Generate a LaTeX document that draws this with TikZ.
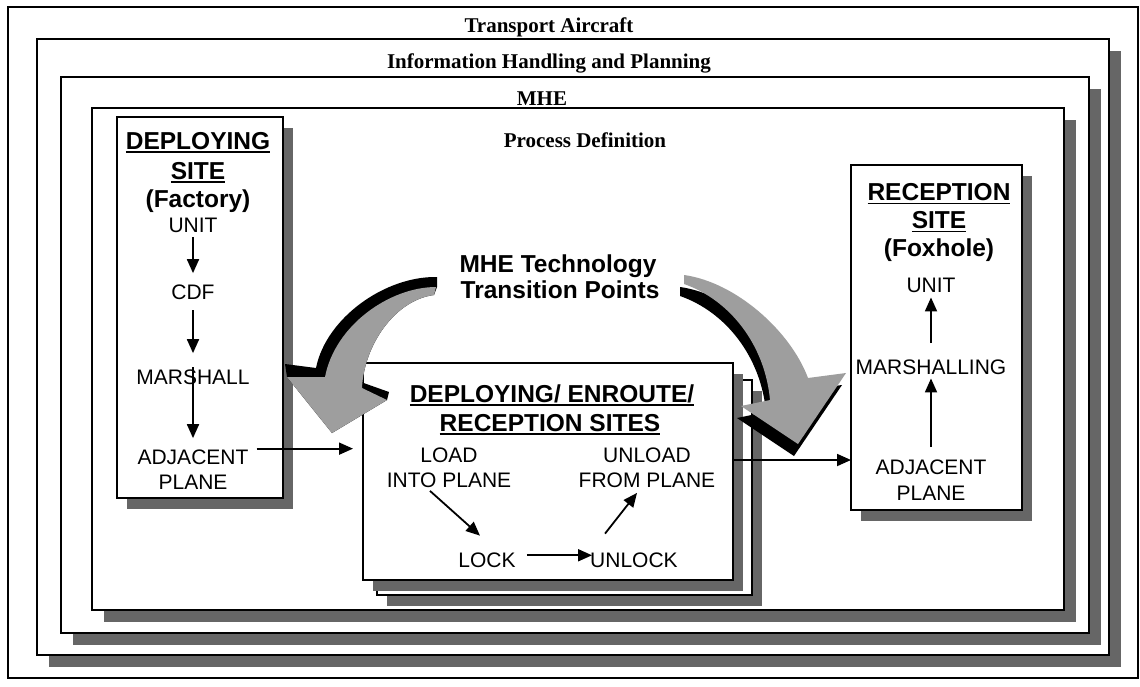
\documentclass[tikz,border=0pt]{standalone}
\usepackage{fontspec}
\setmainfont{Liberation Serif}
\newfontfamily\sansf{Liberation Sans}
\usetikzlibrary{shadows,arrows.meta,calc}
\definecolor{shadowcol}{rgb}{0.40,0.40,0.40}
\definecolor{arrowgray}{rgb}{0.62,0.62,0.62}
\newcommand\myul[1]{\setbox0=\hbox{#1}\rlap{\rule[-3.5pt]{\wd0}{1.8pt}}\box0}
\begin{document}
\begin{tikzpicture}[x=1pt,y=-1pt,
  frame/.style={draw, line width=1.2pt, fill=white, inner sep=0pt, outer sep=0pt},
  fshadow/.style={drop shadow={shadow xshift=12pt, shadow yshift=-12pt, fill=shadowcol, opacity=1}},
  bshadow/.style={drop shadow={shadow xshift=10pt, shadow yshift=-11pt, fill=shadowcol, opacity=1}},
  sitebox/.style={draw, line width=2.2pt, fill=white, inner sep=0pt, outer sep=0pt, bshadow},
  ttl/.style={inner sep=0pt, anchor=base, font=\bfseries\fontsize{21}{25}\selectfont},
  hd/.style={inner sep=0pt, anchor=base, font=\sansf\bfseries\fontsize{24.5}{29}\selectfont},
  itm/.style={inner sep=0pt, anchor=base, font=\sansf\fontsize{21}{25}\selectfont},
  arr/.style={line width=1.8pt, -{Triangle[length=14pt,width=12pt]}},
]
\useasboundingbox (0,0) rectangle (1140,686);
% frames
\node[frame, minimum width=1130, minimum height=671] (f1) at (573,342.5) {};
\node[frame, fshadow, minimum width=1072, minimum height=616] (f2) at (573,347) {};
\node[frame, fshadow, minimum width=1028, minimum height=556] (f3) at (575,355) {};
\node[frame, fshadow, minimum width=972, minimum height=502] (f4) at (578,359) {};
\node[ttl] (t1) at (549,32) {Transport Aircraft};
\node[ttl] (t2) at (549,68) {Information Handling and Planning};
\node[ttl] (t3) at (542,105) {MHE};
\node[ttl] (t4) at (585,147) {Process Definition};
% boxes
\node[sitebox, minimum width=166, minimum height=381] (dep) at (200,307.5) {};
\node[sitebox, minimum width=171, minimum height=345] (rec) at (936.5,337.5) {};
\node[sitebox, minimum width=375, minimum height=215] (mid2) at (564.5,487.5) {};
\node[sitebox, minimum width=370, minimum height=217] (mid) at (548,471.5) {};
% deploying site
\node[hd] (d1) at (198,149) {\myul{DEPLOYING}};
\node[hd] (d2) at (198,179) {\myul{SITE}};
\node[hd] (d3) at (198,207) {(Factory)};
\node[itm] (dunit) at (193,232.5) {UNIT};
\node[itm] (dcdf) at (193,299.5) {CDF};
\node[itm] (dmar) at (193,384.5) {MARSHALL};
\node[itm] (dadj) at (193,464.5) {ADJACENT};
\node[itm] (dpl) at (193,489.5) {PLANE};
\draw[arr] ([yshift=-4.5pt]dunit.south) -- ([yshift=11.5pt]dcdf.north);
\draw[arr] ([yshift=-10.5pt]dcdf.south) -- ([yshift=16.5pt]dmar.north);
\draw[arr] ([yshift=2.5pt]dmar.north) -- ([yshift=11.5pt]dadj.north);
% reception site
\node[hd] (r1) at (939,200.8) {\myul{RECEPTION}};
\node[hd] (r2) at (939,228.8) {\myul{SITE}};
\node[hd] (r3) at (939,256.8) {(Foxhole)};
\node[itm] (runit) at (931,292.5) {UNIT};
\node[itm] (rmar) at (931,374.5) {MARSHALLING};
\node[itm] (radj) at (931,474.5) {ADJACENT};
\node[itm] (rpl) at (931,500.5) {PLANE};
\draw[arr] ([yshift=12.5pt]radj.north) -- ([yshift=-3.5pt]rmar.south);
\draw[arr] ([yshift=16.5pt]rmar.north) -- ([yshift=-4.5pt]runit.south);
% middle
\node[hd] (m1) at (552,402) {\myul{DEPLOYING/ ENROUTE/}};
\node[hd] (m2) at (550,431) {\myul{RECEPTION SITES}};
\node[itm] (mload) at (449,462.5) {LOAD};
\node[itm] (minto) at (449,487.5) {INTO PLANE};
\node[itm] (munload) at (647,462.5) {UNLOAD};
\node[itm] (mfrom) at (647,487.5) {FROM PLANE};
\node[itm] (mlock) at (487,567.5) {LOCK};
\node[itm] (munlock) at (634,567.5) {UNLOCK};
\draw[arr] ($(minto.south)+(-19,3)$) -- ($(mlock.north)+(-7,-17)$);
\draw[arr] ($(munlock.north)+(-29,-19)$) -- ($(mfrom.south)+(-10,5)$);
\draw[arr] ($(mlock.east)+(11,-5)$) -- ($(munlock.west)+(2,-5)$);
\draw[arr] ($(dadj.north east)+(8,-1)$) -- ($(dadj.north east -| mid.west)+(-10,-1)$);
% transition text
\node[hd] (mhe1) at (558,272) {MHE Technology};
\node[hd] (mhe2) at (560,298) {Transition Points};
% left curved arrow
\fill[black] (437,277) .. controls (385,276) and (326,318) .. (316,368) -- (285,364) -- (287,377) -- (332,433) -- (387,400) -- (389,392) -- (358,381) -- (362,388) .. controls (364,345) and (395,300) .. (434,295) -- (437,287) -- cycle;
\fill[arrowgray] (436,287) .. controls (390,287) and (335,325) .. (325,377) -- (287,377) -- (332,433) -- (387,400) -- (362,388) .. controls (364,345) and (395,300) .. (434,295) -- cycle;
% right curved arrow
\fill[black, shift={(-4,12)}] (684,275) .. controls (735,282) and (790,330) .. (808,378) -- (846,373) -- (798,444) -- (741,406) -- (770,400) .. controls (765,345) and (730,300) .. (684,284) -- cycle;
\fill[arrowgray] (684,275) .. controls (735,282) and (790,330) .. (808,378) -- (846,373) -- (798,444) -- (741,406) -- (770,400) .. controls (765,345) and (730,300) .. (684,284) -- cycle;
\coordinate (m2r) at ($(mid.north east)+(0,97)$);
\draw[arr] (m2r) -- (m2r -| rec.west);
\end{tikzpicture}
\end{document}
